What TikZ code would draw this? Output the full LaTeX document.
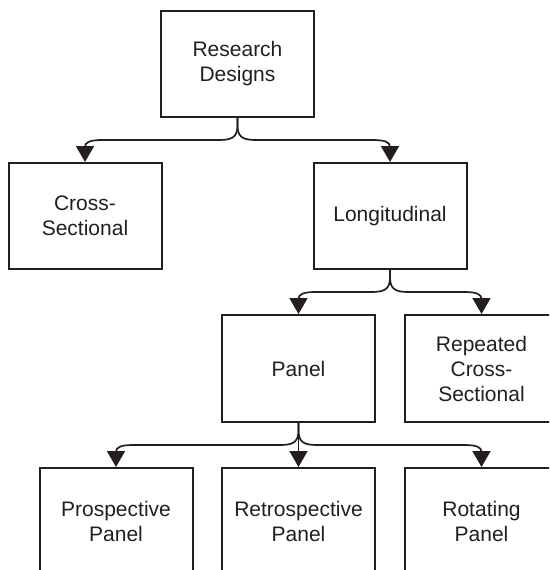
\documentclass[tikz,border=0pt]{standalone}
\usepackage{fontspec}
\setmainfont{Liberation Sans}
\usetikzlibrary{arrows.meta,calc}
\definecolor{ink}{HTML}{231F20}
\tikzset{
  box/.style={draw=ink, line width=2pt, rectangle, minimum width=153pt, minimum height=106pt,
    align=center, text=ink, inner sep=0pt, font=\fontsize{21}{25}\selectfont},
  connline/.style={draw=ink, line width=1.7pt, -{Triangle[width=18pt,length=16pt]}}
}
\newcommand\branchconn[3]{%
  \draw[connline] (#1.south) -- ($(#1.south|-#3)+(0,-15)$)
    .. controls ($(#1.south|-#3)+(0,-4)$) and ($(#1.south|-#3)!4pt!(#2.north|-#3)$) .. ($(#1.south|-#3)!18pt!(#2.north|-#3)$)
    -- ($(#2.north|-#3)!18pt!(#1.south|-#3)$)
    .. controls ($(#2.north|-#3)!5pt!(#1.south|-#3)$) and ($(#2.north|-#3)+(0,2)$) .. ($(#2.north|-#3)+(0,7)$)
    -- (#2.north);}
\begin{document}
\begin{tikzpicture}[x=1pt,y=-1pt]
\useasboundingbox (0,0) rectangle (549,570);
\fill[white] (0,0) rectangle (549,570);
\clip (0,0) rectangle (549,570);
\node[box] (rd) at (237.5,64) {Research\\Designs};
\node[box] (cs) at (85,216) {Cross-\\Sectional};
\node[box] (lo) at (390,216) {Longitudinal};
\node[box, minimum height=107pt] (pa) at (298.5,368.5) {Panel};
\node[box, minimum height=107pt] (rcs) at (481.5,368.5) {Repeated\\Cross-\\Sectional};
\node[box, minimum height=107pt] (pp) at (116,521.5) {Prospective\\Panel};
\node[box, minimum height=107pt] (rp) at (298.5,521.5) {Retrospective\\Panel};
\node[box, minimum height=107pt] (rop) at (481.5,521.5) {Rotating\\Panel};
\coordinate (bar1) at (0,140);
\coordinate (bar2) at (0,292);
\coordinate (bar3) at (0,445);
\branchconn{rd}{cs}{bar1}
\branchconn{rd}{lo}{bar1}
\branchconn{lo}{pa}{bar2}
\branchconn{lo}{rcs}{bar2}
\branchconn{pa}{pp}{bar3}
\draw[connline] (pa.south) -- (rp.north);
\branchconn{pa}{rop}{bar3}
\end{tikzpicture}
\end{document}
